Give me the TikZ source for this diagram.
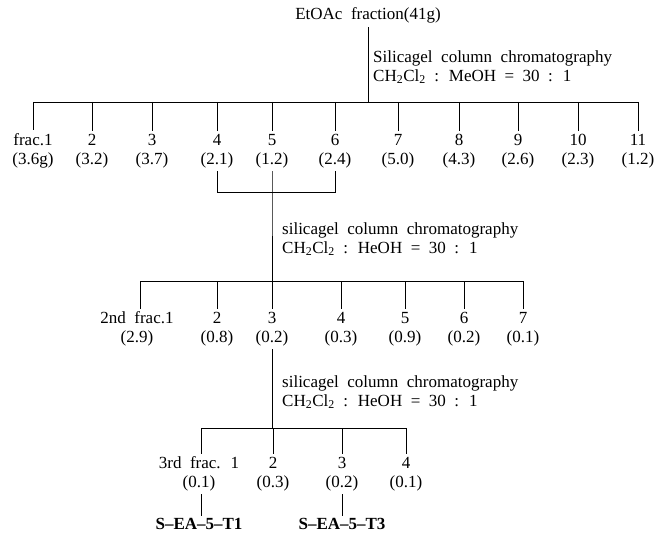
\documentclass[tikz,border=0pt]{standalone}
\usepackage{fontspec}
\setmainfont{Liberation Serif}
\usetikzlibrary{positioning}
\newcommand{\widespaces}{\spaceskip=0.5em plus 0.1em\relax}

\begin{document}
\begin{tikzpicture}[x=1pt, y=-1pt, font=\fontsize{17}{19}\selectfont, execute at begin node=\widespaces]
    % Define styles
    \tikzstyle{frac} = [align=center, inner sep=3pt]
    \tikzstyle{note} = [align=left, anchor=west, inner sep=0pt, font=\fontsize{17}{19}\selectfont]
    \tikzstyle{product} = [inner sep=2pt, font=\fontsize{17}{21}\selectfont\bfseries]
    \tikzstyle{line} = [line width=0.7pt]
    \useasboundingbox (0,0) rectangle (668,534);

    % Nodes
    \node [inner sep=4pt] (extract) at (368,15) {EtOAc fraction(41g)};
    \node [note] (col1) at (373,67) {Silicagel column chromatography\\CH\textsubscript{2}Cl\textsubscript{2} : MeOH = 30 : 1};
    \coordinate (bar1) at (368,102);

    \node [frac] (f1) at (33,151) {frac.1\\(3.6g)};
    \node [frac] (f2) at (92,151) {2\\(3.2)};
    \node [frac] (f3) at (152,151) {3\\(3.7)};
    \node [frac] (f4) at (217,151) {4\\(2.1)};
    \node [frac] (f5) at (272,151) {5\\(1.2)};
    \node [frac] (f6) at (335,151) {6\\(2.4)};
    \node [frac] (f7) at (398,151) {7\\(5.0)};
    \node [frac] (f8) at (459,151) {8\\(4.3)};
    \node [frac] (f9) at (518,151) {9\\(2.6)};
    \node [frac] (f10) at (578,151) {10\\(2.3)};
    \node [frac] (f11) at (638,151) {11\\(1.2)};

    \coordinate (join1) at (272,192);
    \node [note] (col2) at (282,239) {silicagel column chromatography\\CH\textsubscript{2}Cl\textsubscript{2} : HeOH = 30 : 1};
    \coordinate (bar2) at (272,281);

    \node [frac] (s1) at (137,329) {2nd frac.1\\(2.9)};
    \node [frac] (s2) at (217,329) {2\\(0.8)};
    \node [frac] (s3) at (272,329) {3\\(0.2)};
    \node [frac] (s4) at (341,329) {4\\(0.3)};
    \node [frac] (s5) at (405,329) {5\\(0.9)};
    \node [frac] (s6) at (464,329) {6\\(0.2)};
    \node [frac] (s7) at (523,329) {7\\(0.1)};

    \node [note] (col3) at (282,392) {silicagel column chromatography\\CH\textsubscript{2}Cl\textsubscript{2} : HeOH = 30 : 1};
    \coordinate (bar3) at (272,428);

    \node [frac] (t1) at (199,474) {3rd frac. 1\\(0.1)};
    \node [frac] (t2) at (273,474) {2\\(0.3)};
    \node [frac] (t3) at (342,474) {3\\(0.2)};
    \node [frac] (t4) at (406,474) {4\\(0.1)};

    \node [product] (p1) at (199,524) {S--EA--5--T1};
    \node [product] (p3) at (342,524) {S--EA--5--T3};

    % Lines
    \draw [line] (extract) -- (bar1);
    \draw [line] (f1 |- bar1) -- (f11 |- bar1);
    \draw [line] (f1 |- bar1) -- (f1);
    \draw [line] (f2 |- bar1) -- (f2);
    \draw [line] (f3 |- bar1) -- (f3);
    \draw [line] (f4 |- bar1) -- (f4);
    \draw [line] (f5 |- bar1) -- (f5);
    \draw [line] (f6 |- bar1) -- (f6);
    \draw [line] (f7 |- bar1) -- (f7);
    \draw [line] (f8 |- bar1) -- (f8);
    \draw [line] (f9 |- bar1) -- (f9);
    \draw [line] (f10 |- bar1) -- (f10);
    \draw [line] (f11 |- bar1) -- (f11);

    \draw [line] (f4) -- (f4 |- join1) -- (f6 |- join1) -- (f6);
    \draw [line] (f5) -- (join1) -- (bar2);

    \draw [line] ([xshift=3pt]s1.north |- bar2) -- (s7 |- bar2);
    \draw [line] ([xshift=3pt]s1.north |- bar2) -- ([xshift=3pt]s1.north);
    \draw [line] (s2 |- bar2) -- (s2);
    \draw [line] (s3 |- bar2) -- (s3);
    \draw [line] (s4 |- bar2) -- (s4);
    \draw [line] (s5 |- bar2) -- (s5);
    \draw [line] (s6 |- bar2) -- (s6);
    \draw [line] (s7 |- bar2) -- (s7);

    \draw [line] (s3) -- (bar3);
    \draw [line] ([xshift=2pt]t1.north |- bar3) -- (t4 |- bar3);
    \draw [line] ([xshift=2pt]t1.north |- bar3) -- ([xshift=2pt]t1.north);
    \draw [line] (t2 |- bar3) -- (t2);
    \draw [line] (t3 |- bar3) -- (t3);
    \draw [line] (t4 |- bar3) -- (t4);

    \draw [line] ([xshift=2pt]t1.south) -- ([xshift=2pt]p1.north);
    \draw [line] (t3) -- (p3);
\end{tikzpicture}
\end{document}
